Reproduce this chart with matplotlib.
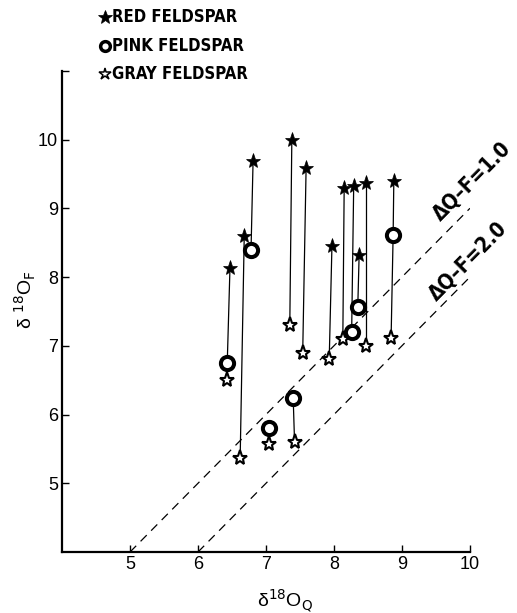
import numpy as np
import matplotlib
matplotlib.use('Agg')
import matplotlib.pyplot as plt
from matplotlib import font_manager as fm

# delta 18O of quartz (x) and feldspar (y)
red_x = [6.47, 6.68, 6.81, 7.38, 7.59, 7.97, 8.15, 8.29, 8.37, 8.47, 8.88]
red_y = [8.13, 8.60, 9.69, 10.00, 9.59, 8.45, 9.30, 9.33, 8.32, 9.37, 9.39]
red_sample = ['A', 'B', 'C', 'E', 'G', 'H', 'I', 'J', 'K', 'L', 'M']

pink_x = [6.43, 6.78, 7.04, 7.40, 8.26, 8.35, 8.87]
pink_y = [6.75, 8.40, 5.80, 6.24, 7.20, 7.57, 8.61]
pink_sample = ['A', 'C', 'D', 'F', 'J', 'K', 'M']

gray_x = [6.43, 6.62, 7.04, 7.35, 7.42, 7.54, 7.93, 8.13, 8.47, 8.84]
gray_y = [6.50, 5.37, 5.57, 7.30, 5.60, 6.90, 6.81, 7.10, 7.00, 7.11]
gray_sample = ['A', 'B', 'D', 'E', 'F', 'G', 'H', 'I', 'L', 'M']

# reference lines: delta Q-F
delta_qf = [1.0, 2.0]
x_ticks = [5, 6, 7, 8, 9, 10]
y_ticks = [5, 6, 7, 8, 9, 10, 11]

# pick a narrow bold face for the lettering if one is installed
names = {f.name for f in fm.fontManager.ttflist}
cond = [f for f in fm.fontManager.ttflist
        if f.name == 'DejaVu Sans' and 'ondensed' in str(f.stretch) + f.fname]
if 'Liberation Sans Narrow' in names:
    LABEL = dict(family='Liberation Sans Narrow', fontweight='bold', fontsize=13)
elif cond:
    LABEL = dict(family='DejaVu Sans', fontstretch='condensed', fontweight='bold', fontsize=12)
else:
    LABEL = dict(family='Liberation Sans', fontweight='bold', fontsize=11)
TICK_FONT = 'Liberation Sans'

fig = plt.figure(figsize=(5.17, 6.13), dpi=100)
ax = fig.add_axes([0.120, 0.0995, 0.789, 0.785])
ax.set_xlim(4, 10)
ax.set_ylim(4, 11)

# tie lines joining the feldspars from the same rock
pts = {}
for xs, ys, ss in [(red_x, red_y, red_sample), (pink_x, pink_y, pink_sample),
                   (gray_x, gray_y, gray_sample)]:
    for x, y, s in zip(xs, ys, ss):
        pts.setdefault(s, []).append((y, x))
for s, p in pts.items():
    p = sorted(p)
    ax.plot([q[1] for q in p], [q[0] for q in p], color='black', lw=0.9, zorder=1)

# dashed Delta lines
for d in delta_qf:
    xx = np.array([4 + d, 10.0])
    ax.plot(xx, xx - d, color='black', lw=0.9, dashes=(7, 5), zorder=1)
    ax.text(10.03 - (d - 1.0) * 0.05, 10.03 - d + 0.36 - (d - 1.0) * 0.16,
            u'\u0394Q\u2013F=%.1f' % d, rotation=45.3, ha='center', va='center',
            clip_on=False, rotation_mode='anchor', **dict(LABEL, fontsize=LABEL['fontsize'] + 3))

ax.plot(gray_x, gray_y, linestyle='none', marker='*', ms=11, mfc='white',
        mec='black', mew=1.5, zorder=3, clip_on=False)
ax.plot(pink_x, pink_y, linestyle='none', marker='o', ms=9.5, mfc='white',
        mec='black', mew=2.9, zorder=3)
ax.plot(red_x, red_y, linestyle='none', marker='*', ms=11, mfc='black',
        mec='black', mew=0.5, zorder=3)

for side in ['top', 'right']:
    ax.spines[side].set_visible(False)
for side in ['left', 'bottom']:
    ax.spines[side].set_linewidth(1.6)
ax.set_xticks(x_ticks)
ax.set_yticks(y_ticks)
ax.set_yticklabels([str(t) if t < 11 else '' for t in y_ticks])
ax.tick_params(direction='in', length=5, width=1, pad=3, labelsize=13)
for lab in ax.get_xticklabels() + ax.get_yticklabels():
    lab.set_family(TICK_FONT)

ax.set_xlabel(u'\u03b4$^{18}$O$_\\mathrm{Q}$', fontsize=14, family=TICK_FONT)
ax.set_ylabel(u'\u03b4 $^{18}$O$_\\mathrm{F}$', fontsize=14, family=TICK_FONT)
ax.xaxis.set_label_coords(0.547, -0.075)
ax.yaxis.set_label_coords(-0.058, 0.524)

# legend drawn by hand at the top
leg_y = [0.972, 0.925, 0.879]
leg_text = ['RED FELDSPAR', 'PINK FELDSPAR', 'GRAY FELDSPAR']
leg_style = [dict(marker='*', ms=10, mfc='black', mec='black', mew=0.5),
             dict(marker='o', ms=7, mfc='white', mec='black', mew=2.5),
             dict(marker='*', ms=9, mfc='white', mec='black', mew=1.1)]
for y, t, st in zip(leg_y, leg_text, leg_style):
    fig.add_artist(plt.Line2D([0.203], [y], transform=fig.transFigure,
                              linestyle='none', **st))
    fig.text(0.217, y, t, ha='left', va='center', **LABEL)

fig.savefig('out.png', dpi=100)
